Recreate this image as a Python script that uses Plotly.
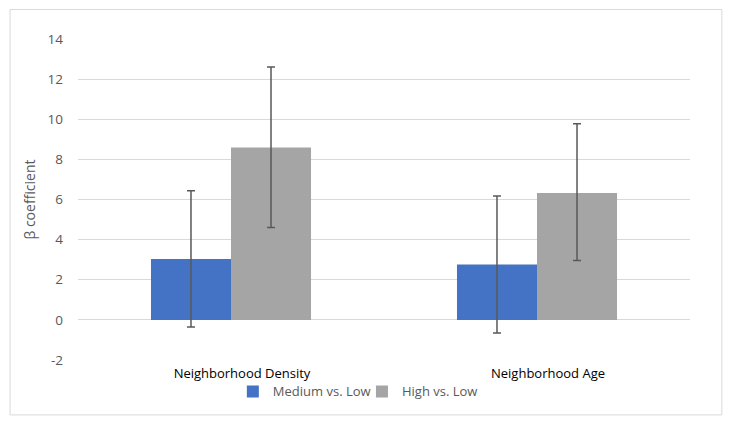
import plotly.graph_objects as go

categories = ["Neighborhood Density", "Neighborhood Age"]
series_names = ["Medium vs. Low", "High vs. Low"]
medium_vals = [3.03, 2.76]
medium_err_plus = [3.40, 3.42]
medium_err_minus = [3.39, 3.42]
high_vals = [8.59, 6.33]
high_err_plus = [4.01, 3.44]
high_err_minus = [3.99, 3.37]
y_ticks = [-2, 0, 2, 4, 6, 8, 10, 12, 14]
y_tick_text = ["-2", "0", "2", "4", "6", "8", "10", "12", "14"]

colors = ["#4472C4", "#A5A5A5"]
err_color = "#595959"
font_family = "Open Sans, Noto Sans, sans-serif"

fig = go.Figure()
for name, vals, ep, em, col, lg in [
    (series_names[0], medium_vals, medium_err_plus, medium_err_minus, colors[0], "legend"),
    (series_names[1], high_vals, high_err_plus, high_err_minus, colors[1], "legend2"),
]:
    fig.add_trace(go.Bar(
        x=categories, y=vals, name=name, marker=dict(color=col, line=dict(width=0)),
        legend=lg,
        error_y=dict(type="data", symmetric=False, array=ep, arrayminus=em,
                     color=err_color, thickness=1.5, width=4),
    ))

legend_common = dict(orientation="h", xanchor="left", y=-0.098, yanchor="middle",
                     font=dict(size=13, color="#595959"), itemwidth=30,
                     bgcolor="rgba(0,0,0,0)")

fig.update_layout(
    width=725, height=420,
    margin=dict(l=70, r=43, t=31, b=67.6),
    paper_bgcolor="white", plot_bgcolor="white",
    barmode="group", bargap=0.477, bargroupgap=0,
    font=dict(family=font_family, color="#595959", size=12),
    showlegend=True,
    legend=dict(x=0.253, **legend_common),
    legend2=dict(x=0.464, **legend_common),
    xaxis=dict(showgrid=False, showline=False, ticks="", zeroline=False,
               ticklabelshift=11, ticklabelstandoff=4,
               tickfont=dict(size=13, color="#000000")),
    yaxis=dict(range=[-2, 14], tickvals=y_ticks, ticktext=y_tick_text,
               showgrid=True, gridcolor="#D9D9D9",
               gridwidth=1, zeroline=True, zerolinecolor="#D9D9D9", zerolinewidth=1,
               showline=False, ticks="", ticklabelstandoff=14,
               tickfont=dict(size=13.5, color="#595959"),
               title=dict(text="β coefficient", font=dict(size=14, color="#595959"), standoff=8)),
    shapes=[dict(type="rect", xref="paper", yref="paper",
                 x0=-0.111, x1=1.052, y0=-0.171, y1=1.092,
                 line=dict(color="#D9D9D9", width=1), fillcolor="rgba(0,0,0,0)", layer="below")],
)

fig.write_html("out.html")
